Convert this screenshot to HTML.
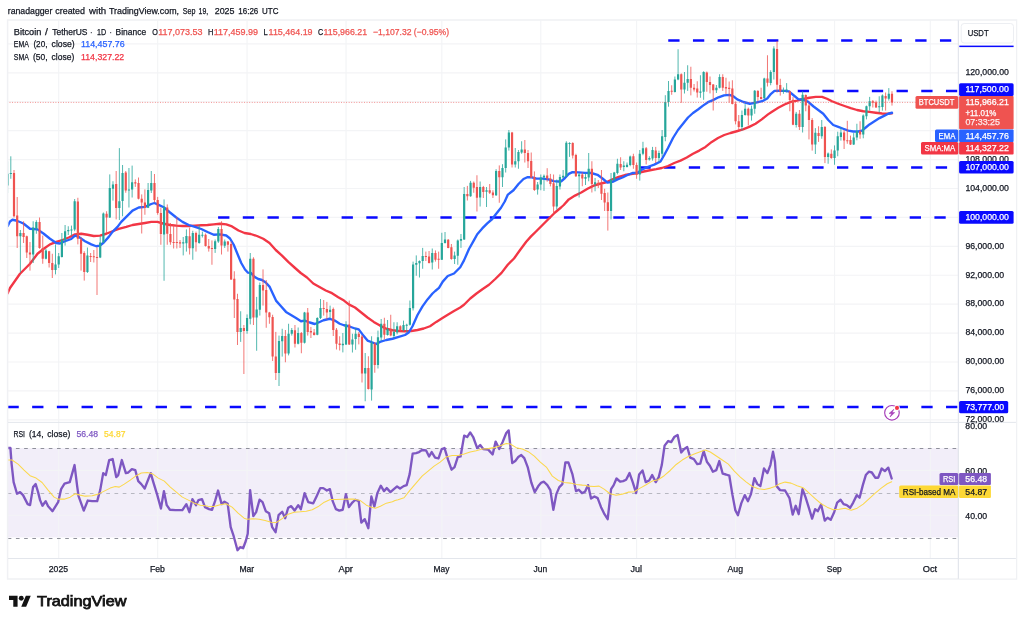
<!DOCTYPE html>
<html><head><meta charset="utf-8"><title>BTCUSDT chart</title>
<style>html,body{margin:0;padding:0;background:#fff}body{width:1024px;height:624px;overflow:hidden}svg{display:block}</style>
</head><body>
<svg width="1024" height="624" viewBox="0 0 1024 624" font-family='"Liberation Sans", sans-serif'>
<rect width="1024" height="624" fill="#fff"/>
<rect x="7.5" y="448.2" width="951.3" height="89.19999999999999" fill="#f2eef9"/>
<path d="M58.70 20.5 V558.5 M157.67 20.5 V558.5 M247.07 20.5 V558.5 M346.04 20.5 V558.5 M441.82 20.5 V558.5 M540.80 20.5 V558.5 M636.58 20.5 V558.5 M735.55 20.5 V558.5 M834.53 20.5 V558.5 M930.31 20.5 V558.5 M7.0 419.84 H958.8 M7.0 390.92 H958.8 M7.0 362.00 H958.8 M7.0 333.08 H958.8 M7.0 304.16 H958.8 M7.0 275.24 H958.8 M7.0 246.32 H958.8 M7.0 217.40 H958.8 M7.0 188.48 H958.8 M7.0 159.56 H958.8 M7.0 130.64 H958.8 M7.0 101.72 H958.8 M7.0 72.80 H958.8 M7.0 43.88 H958.8 M7.0 470.4 H958.8 M7.0 515.2 H958.8" stroke="#f3f4f6" stroke-width="1.15" fill="none"/>
<path d="M7.7 448.5 H958.8 M7.7 538.5 H958.8" stroke="#7c7f8a" stroke-opacity="0.85" stroke-width="1" stroke-dasharray="3.65 4.566" fill="none"/>
<path d="M7.7 493.5 H958.8" stroke="#7c7f8a" stroke-opacity="0.5" stroke-width="1" stroke-dasharray="3.65 4.566" fill="none"/>
<clipPath id="cp"><rect x="7.2" y="20.5" width="951.3" height="538.0"/></clipPath>
<g clip-path="url(#cp)">
<path d="M668.25 40.5 H958.8" stroke="#0a0aff" stroke-width="2.45" stroke-dasharray="11.3 13.4" fill="none"/>
<path d="M797.75 91.0 H958.8" stroke="#0a0aff" stroke-width="2.45" stroke-dasharray="11.3 13.4" fill="none"/>
<path d="M639.4 167.4 H958.8" stroke="#0a0aff" stroke-width="2.45" stroke-dasharray="11.3 13.4" fill="none"/>
<path d="M218.1 217.5 H958.8" stroke="#0a0aff" stroke-width="2.45" stroke-dasharray="11.3 13.4" fill="none"/>
<path d="M7.45 407.0 H958.8" stroke="#0a0aff" stroke-width="2.45" stroke-dasharray="11.3 13.4" fill="none"/>
<path d="M7.50 293.50 L10.00 288.00 L20.00 273.75 L30.00 263.75 L37.50 253.75 L43.75 248.75 L50.00 244.40 L56.25 241.90 L62.50 240.00 L68.75 237.50 L75.00 234.40 L81.25 233.75 L87.50 234.75 L93.75 236.00 L100.00 235.60 L106.25 233.75 L112.50 231.25 L118.75 228.90 L126.25 226.90 L132.50 225.00 L138.75 224.00 L145.00 223.00 L151.25 221.90 L157.50 221.90 L163.75 223.75 L170.00 225.00 L176.25 225.60 L182.50 226.00 L188.75 226.00 L195.00 225.60 L201.25 225.25 L207.50 225.00 L213.75 224.40 L220.00 223.75 L226.25 224.40 L232.00 226.40 L238.50 230.50 L244.50 233.00 L250.75 234.00 L257.00 236.00 L263.25 238.75 L269.50 243.00 L275.75 250.00 L282.00 255.60 L288.25 261.90 L294.50 267.50 L300.75 273.00 L307.00 277.50 L313.25 283.50 L319.50 287.00 L325.75 290.50 L332.00 293.20 L338.25 297.20 L344.00 300.60 L348.75 304.40 L355.00 307.50 L361.25 312.50 L367.50 317.50 L373.75 321.90 L380.00 325.60 L386.25 328.75 L392.50 330.25 L398.75 331.00 L405.00 331.25 L411.25 331.00 L417.50 330.00 L423.75 328.50 L430.00 326.25 L436.25 321.90 L442.50 318.00 L448.60 314.20 L454.00 311.00 L460.25 307.50 L464.00 304.75 L470.25 298.50 L476.50 293.50 L482.75 289.00 L489.00 284.75 L495.25 279.00 L501.50 272.90 L507.75 264.75 L514.00 258.50 L520.25 249.75 L526.20 241.80 L531.00 236.40 L536.00 231.50 L542.25 225.25 L548.50 219.00 L554.75 212.75 L561.00 207.50 L563.75 205.00 L568.75 199.40 L575.00 195.60 L581.25 192.50 L587.50 188.75 L593.75 185.60 L600.00 183.75 L606.25 182.25 L612.50 179.40 L618.75 176.90 L625.00 175.00 L631.25 174.00 L637.50 173.00 L643.75 171.50 L650.00 170.25 L656.25 169.20 L661.75 168.00 L668.00 166.00 L674.25 163.00 L680.50 160.60 L686.75 157.50 L693.00 153.75 L699.25 150.60 L705.50 146.90 L711.75 141.90 L718.00 138.00 L724.25 135.00 L730.50 133.00 L736.75 131.25 L743.00 129.40 L749.25 126.90 L755.50 123.75 L761.75 119.40 L768.00 114.40 L772.00 111.70 L778.25 107.80 L784.50 104.50 L790.75 101.90 L797.00 100.60 L803.25 99.00 L809.50 97.75 L815.75 96.90 L822.00 96.90 L827.00 98.75 L832.00 101.25 L838.25 103.75 L844.50 106.00 L850.75 108.10 L857.00 110.00 L863.25 111.25 L869.50 111.90 L875.75 112.75 L882.00 113.50 L887.00 113.75 L892.00 113.40" stroke="#f23645" stroke-width="2.35" fill="none" stroke-linejoin="round" stroke-linecap="round" />
<path d="M7.75 226.00 L10.00 221.50 L12.50 219.75 L16.00 220.50 L20.00 222.00 L23.75 223.75 L30.00 228.75 L37.50 229.40 L43.75 233.75 L50.00 238.75 L56.25 243.00 L60.00 243.50 L65.00 241.25 L71.25 239.00 L75.00 235.60 L78.75 236.90 L85.00 241.25 L91.25 244.40 L96.25 246.25 L100.00 245.60 L103.75 242.50 L108.75 236.90 L112.50 231.90 L117.50 226.90 L121.25 221.90 L126.25 216.90 L132.50 210.60 L138.75 207.50 L145.00 206.90 L151.25 204.00 L154.40 203.00 L157.50 204.40 L163.75 207.25 L170.00 212.50 L176.25 217.50 L182.50 221.90 L188.75 225.00 L195.00 226.90 L201.25 229.00 L207.50 232.00 L213.75 234.75 L220.00 234.40 L226.25 235.50 L230.00 238.50 L233.75 244.75 L237.50 254.00 L241.25 263.00 L245.00 269.50 L248.00 272.70 L251.00 273.00 L254.50 276.90 L258.25 279.00 L262.00 280.00 L265.75 282.50 L269.50 286.60 L272.25 292.50 L276.00 300.60 L281.00 306.25 L286.00 311.90 L291.00 315.00 L296.00 318.00 L301.00 321.25 L304.75 320.60 L309.75 322.50 L314.75 324.00 L318.50 322.50 L323.50 320.25 L329.75 318.75 L334.75 320.60 L339.75 323.75 L344.00 325.25 L348.75 326.25 L355.00 328.50 L358.75 329.40 L362.50 334.40 L367.50 340.60 L372.50 342.50 L376.25 344.00 L380.00 341.90 L386.25 340.00 L392.50 338.75 L398.75 336.90 L405.00 335.00 L408.75 332.50 L412.50 326.25 L417.50 315.00 L422.50 306.40 L427.50 299.40 L432.50 293.50 L435.25 291.00 L439.00 287.90 L442.75 281.60 L447.75 276.00 L454.00 273.50 L460.25 267.25 L464.00 260.40 L469.00 249.00 L474.00 240.20 L477.25 234.20 L482.25 228.40 L487.25 223.40 L492.25 219.00 L496.00 214.00 L501.00 207.75 L504.75 201.50 L507.90 194.60 L513.50 190.25 L518.50 184.00 L523.50 179.00 L527.25 177.20 L531.00 177.20 L536.00 178.50 L542.25 178.70 L548.50 179.40 L553.50 181.20 L558.50 181.50 L561.25 181.25 L565.00 178.00 L568.75 173.90 L572.50 172.10 L578.75 172.40 L585.00 172.90 L591.25 173.00 L597.50 174.80 L602.50 178.50 L607.50 182.60 L612.50 181.90 L617.50 179.40 L622.50 177.50 L627.50 175.00 L632.50 173.00 L637.50 172.90 L641.25 170.00 L647.50 167.00 L654.25 164.60 L660.50 161.50 L664.25 155.00 L668.00 148.00 L673.00 138.00 L678.00 130.00 L683.00 123.75 L688.00 117.50 L693.00 113.00 L698.00 109.50 L703.00 105.60 L708.00 102.20 L713.00 100.10 L718.50 97.30 L724.00 95.40 L729.50 94.90 L733.50 96.30 L737.25 99.40 L743.50 102.00 L749.75 103.75 L756.00 102.70 L762.25 101.20 L767.25 98.50 L771.00 93.80 L774.50 90.80 L779.50 90.70 L784.50 90.80 L788.90 91.40 L793.25 95.00 L798.25 99.20 L803.25 99.60 L808.25 101.90 L813.25 106.25 L818.25 110.00 L823.25 113.75 L828.25 120.00 L833.25 125.00 L838.25 126.90 L843.25 128.75 L848.25 130.60 L853.25 131.50 L858.25 131.50 L862.00 130.60 L865.75 127.50 L869.50 124.40 L874.50 121.25 L879.50 118.10 L884.50 115.60 L888.25 113.75 L892.00 112.75" stroke="#2962ff" stroke-width="2.35" fill="none" stroke-linejoin="round" stroke-linecap="round" />
<path d="M7.62 161.30V193.00M10.81 156.30V178.75M20.39 230.00V272.50M33.16 221.25V263.00M36.35 220.25V233.75M45.93 248.75V259.40M55.51 244.40V274.40M58.70 253.00V268.00M61.89 233.00V257.50M65.09 225.00V245.60M68.28 226.25V235.00M71.47 225.60V235.60M74.66 199.00V231.25M87.43 247.50V273.00M100.21 236.25V258.10M103.40 212.50V243.00M109.78 174.40V218.00M112.98 181.25V200.60M119.36 148.10V220.00M122.55 165.00V216.25M128.94 168.00V207.50M132.13 165.60V197.50M148.10 183.00V208.10M151.29 171.00V193.00M164.06 199.40V280.75M183.22 237.00V255.40M186.41 229.40V251.60M192.79 230.75V259.75M199.18 225.00V243.75M202.37 231.60V237.50M215.14 239.50V252.90M218.33 227.00V242.90M224.72 239.50V247.90M240.68 311.25V341.90M247.07 314.40V333.75M250.26 253.00V324.40M256.65 296.90V350.75M259.84 282.50V315.60M279.00 335.60V386.00M282.19 328.75V356.60M288.57 323.75V355.40M291.77 328.00V335.60M298.15 327.50V344.40M304.54 311.90V343.50M317.31 317.25V335.25M320.50 299.00V319.00M330.08 305.60V318.00M342.85 333.00V352.40M346.04 321.25V345.00M352.43 333.75V352.50M355.62 328.00V349.75M365.20 353.00V401.25M371.58 336.25V400.60M377.97 330.60V368.50M381.16 319.00V341.00M387.55 320.00V335.60M393.93 322.25V338.00M397.13 322.25V334.40M403.51 320.60V331.25M406.70 323.75V332.50M409.90 300.50V325.60M413.09 261.60V310.50M416.28 255.40V275.75M419.48 260.40V277.50M422.67 247.90V268.75M432.25 248.50V269.50M441.82 232.75V260.00M445.02 232.00V243.50M454.59 251.60V264.00M457.79 239.50V264.75M460.98 234.00V247.90M464.17 187.00V240.00M470.56 180.90V196.75M480.14 181.50V206.50M486.52 187.00V207.00M496.10 169.20V196.00M502.49 164.20V187.00M505.68 139.40V172.50M508.87 130.00V150.60M515.26 148.00V167.50M518.45 150.00V168.75M521.64 141.25V153.75M537.61 182.00V194.60M540.80 174.50V190.25M543.99 174.50V190.90M556.76 179.50V209.60M559.95 174.50V189.50M563.15 170.00V178.20M566.34 141.25V177.00M569.53 142.25V156.90M579.11 173.00V197.50M585.50 173.00V185.00M588.69 153.00V181.25M595.07 178.00V191.25M611.04 173.00V219.40M614.23 171.90V181.25M617.42 158.75V174.40M623.81 161.25V171.25M627.00 162.50V167.50M630.19 155.60V166.25M639.77 150.00V180.60M642.96 141.80V155.25M649.35 156.25V160.60M652.54 146.90V160.60M658.93 150.60V161.90M662.12 130.00V156.90M665.31 95.20V141.25M668.51 81.00V106.70M674.89 76.50V92.50M678.08 49.25V80.20M684.47 72.00V93.50M687.66 65.25V90.90M700.43 75.25V97.75M703.63 71.25V99.80M716.40 85.00V93.00M719.59 74.25V88.40M741.94 110.50V130.60M745.13 104.20V115.60M751.52 105.60V120.60M754.71 90.00V113.75M764.29 77.75V99.00M770.67 70.25V85.25M773.86 46.25V79.50M783.44 87.50V93.75M786.64 83.10V92.50M796.21 111.90V127.50M802.60 91.25V132.50M815.37 128.10V154.00M821.76 120.00V138.75M828.14 152.50V163.75M834.53 145.40V164.75M837.72 131.70V156.25M840.91 127.50V140.60M853.68 133.10V145.00M856.88 123.75V140.30M863.26 114.40V138.30M866.45 105.60V119.40M869.65 96.90V110.60M879.22 96.25V112.50M882.42 94.40V110.60M888.80 88.10V100.60" stroke="#26a69a" stroke-width="0.8" fill="none"/>
<path d="M14.00 170.00V217.50M17.19 197.00V248.00M23.58 221.25V243.00M26.77 235.60V258.00M29.97 242.00V270.60M39.54 217.50V248.75M42.74 235.60V263.75M49.12 250.75V267.50M52.31 253.75V278.00M77.86 197.75V244.40M81.05 236.90V270.60M84.24 251.25V280.60M90.63 253.00V262.00M93.82 250.00V262.50M97.01 247.50V295.00M106.59 211.25V233.00M116.17 171.00V219.40M125.75 171.00V192.75M135.32 179.40V186.90M138.52 177.50V199.40M141.71 194.40V233.50M144.90 189.40V214.75M154.48 174.00V202.50M157.67 196.90V214.75M160.87 207.50V244.75M167.25 204.40V244.75M170.44 223.00V244.75M173.64 224.40V248.50M176.83 216.90V248.50M180.02 240.00V248.00M189.60 227.50V254.50M195.99 231.60V251.60M205.56 233.50V246.60M208.76 239.00V251.60M211.95 240.40V264.75M221.53 221.25V254.50M227.91 241.00V251.60M231.11 241.60V280.00M234.30 271.25V318.00M237.49 293.75V345.00M243.88 325.00V374.00M253.45 257.25V325.00M263.03 269.40V305.60M266.23 280.00V327.75M269.42 311.90V323.75M272.61 314.75V361.00M275.80 331.90V380.00M285.38 330.00V362.25M294.96 325.00V347.50M301.35 332.00V353.25M307.73 308.00V335.60M310.92 326.90V338.00M314.12 329.00V335.50M323.69 300.00V315.60M326.89 301.90V319.40M333.27 307.50V336.00M336.46 328.00V349.50M339.66 336.25V350.50M349.24 300.60V345.00M358.81 331.90V344.40M362.01 335.00V382.50M368.39 356.25V389.50M374.78 342.00V372.75M384.36 317.75V339.40M390.74 314.75V336.25M400.32 325.25V330.60M425.86 251.60V261.00M429.05 251.00V263.50M435.44 250.40V261.60M438.63 251.60V268.75M448.21 239.00V248.25M451.40 244.00V259.75M467.37 185.90V200.50M473.75 181.50V192.75M476.94 175.25V211.50M483.33 185.90V198.00M489.71 184.00V194.00M492.91 190.25V198.00M499.29 165.40V202.75M512.06 131.90V167.50M524.83 140.00V162.50M528.03 150.00V168.00M531.22 152.50V178.00M534.41 171.40V190.90M547.18 168.20V181.70M550.38 173.90V186.40M553.57 174.50V214.00M572.72 142.25V158.50M575.92 153.75V177.00M582.30 172.50V186.25M591.88 161.25V192.50M598.27 180.00V188.00M601.46 170.00V200.00M604.65 188.75V211.00M607.84 192.50V230.60M620.62 157.25V170.00M633.39 153.75V168.75M636.58 162.50V178.75M646.16 147.00V164.40M655.73 146.90V163.00M671.70 85.25V94.80M681.28 73.40V102.80M690.85 66.75V95.40M694.05 84.00V91.50M697.24 81.25V97.60M706.82 71.50V91.75M710.01 76.50V93.40M713.20 84.00V110.50M722.78 74.25V90.90M725.97 77.75V94.00M729.17 81.50V102.60M732.36 80.25V104.40M735.55 101.40V124.40M738.75 115.00V130.00M748.32 107.60V125.60M757.90 90.00V101.40M761.09 87.75V99.50M767.48 55.25V86.50M777.06 40.90V92.60M780.25 78.75V95.60M789.83 90.60V111.25M793.02 96.90V125.20M799.41 110.00V130.00M805.79 94.40V111.25M808.98 103.75V139.40M812.18 118.10V150.60M818.56 126.25V141.90M824.95 126.00V163.10M831.33 149.40V158.75M844.10 130.00V149.00M847.30 120.80V143.75M850.49 135.60V145.00M860.07 121.25V138.75M872.84 100.00V107.50M876.03 100.60V107.75M885.61 92.50V110.60M891.99 91.25V105.60" stroke="#ef5350" stroke-width="0.8" fill="none"/>
<path d="M6.52 173.75h2.2V185.60h-2.2zM9.71 173.00h2.2V174.00h-2.2zM19.29 233.00h2.2V236.25h-2.2zM32.06 227.50h2.2V254.40h-2.2zM35.25 222.00h2.2V228.75h-2.2zM44.83 250.60h2.2V258.75h-2.2zM54.41 264.40h2.2V270.00h-2.2zM57.60 256.25h2.2V264.40h-2.2zM60.79 239.40h2.2V257.00h-2.2zM63.99 231.25h2.2V240.00h-2.2zM67.18 230.00h2.2V231.25h-2.2zM70.37 229.40h2.2V230.60h-2.2zM73.56 201.25h2.2V229.40h-2.2zM86.33 255.60h2.2V271.90h-2.2zM99.11 242.50h2.2V257.50h-2.2zM102.30 213.50h2.2V242.50h-2.2zM108.68 188.10h2.2V217.50h-2.2zM111.88 184.40h2.2V188.75h-2.2zM118.26 201.25h2.2V208.10h-2.2zM121.45 173.00h2.2V201.00h-2.2zM127.84 189.40h2.2V190.60h-2.2zM131.03 182.25h2.2V189.40h-2.2zM147.00 190.00h2.2V207.75h-2.2zM150.19 183.00h2.2V190.60h-2.2zM162.96 207.00h2.2V234.40h-2.2zM182.12 242.25h2.2V243.50h-2.2zM185.31 236.00h2.2V243.25h-2.2zM191.69 232.90h2.2V248.25h-2.2zM198.08 234.75h2.2V242.90h-2.2zM201.27 234.75h2.2V235.75h-2.2zM214.04 241.25h2.2V248.90h-2.2zM217.23 229.00h2.2V241.60h-2.2zM223.62 241.60h2.2V245.75h-2.2zM239.58 328.00h2.2V331.90h-2.2zM245.97 318.00h2.2V331.00h-2.2zM249.16 258.75h2.2V318.75h-2.2zM255.55 309.40h2.2V317.50h-2.2zM258.74 285.00h2.2V309.75h-2.2zM277.90 341.00h2.2V372.90h-2.2zM281.09 336.00h2.2V341.25h-2.2zM287.47 333.75h2.2V353.50h-2.2zM290.67 330.00h2.2V333.75h-2.2zM297.05 333.00h2.2V343.75h-2.2zM303.44 312.50h2.2V342.75h-2.2zM316.21 318.00h2.2V334.75h-2.2zM319.40 308.00h2.2V318.00h-2.2zM328.98 309.75h2.2V311.90h-2.2zM341.75 343.75h2.2V345.25h-2.2zM344.94 324.40h2.2V344.40h-2.2zM351.33 339.40h2.2V344.40h-2.2zM354.52 333.75h2.2V339.00h-2.2zM364.10 368.00h2.2V373.50h-2.2zM370.48 342.50h2.2V389.40h-2.2zM376.87 337.25h2.2V365.00h-2.2zM380.06 323.75h2.2V337.50h-2.2zM386.45 329.00h2.2V335.00h-2.2zM392.83 331.90h2.2V336.00h-2.2zM396.03 326.25h2.2V332.50h-2.2zM402.41 325.00h2.2V330.25h-2.2zM405.60 324.68h2.2V325.68h-2.2zM408.80 308.00h2.2V324.75h-2.2zM411.99 264.50h2.2V308.25h-2.2zM415.18 262.90h2.2V264.75h-2.2zM418.38 261.00h2.2V263.25h-2.2zM421.57 256.00h2.2V261.00h-2.2zM431.15 252.90h2.2V262.50h-2.2zM440.72 242.90h2.2V259.75h-2.2zM443.92 239.60h2.2V242.90h-2.2zM453.49 255.40h2.2V259.00h-2.2zM456.69 240.40h2.2V255.75h-2.2zM459.88 239.00h2.2V240.75h-2.2zM463.07 194.00h2.2V239.50h-2.2zM469.46 182.75h2.2V196.25h-2.2zM479.04 187.00h2.2V197.50h-2.2zM485.42 190.25h2.2V191.75h-2.2zM495.00 171.00h2.2V195.25h-2.2zM501.39 168.00h2.2V177.30h-2.2zM504.58 147.50h2.2V168.00h-2.2zM507.77 132.50h2.2V147.50h-2.2zM514.16 161.25h2.2V164.40h-2.2zM517.35 151.90h2.2V161.25h-2.2zM520.54 149.40h2.2V152.50h-2.2zM536.50 184.60h2.2V189.60h-2.2zM539.70 177.60h2.2V184.50h-2.2zM542.89 175.75h2.2V177.60h-2.2zM555.66 186.00h2.2V206.50h-2.2zM558.85 177.00h2.2V186.50h-2.2zM562.05 175.80h2.2V177.50h-2.2zM565.24 142.75h2.2V176.25h-2.2zM568.43 142.88h2.2V143.88h-2.2zM578.01 174.40h2.2V176.25h-2.2zM584.40 177.00h2.2V178.75h-2.2zM587.59 168.75h2.2V177.50h-2.2zM593.97 182.20h2.2V184.20h-2.2zM609.94 179.40h2.2V211.00h-2.2zM613.13 172.50h2.2V180.00h-2.2zM616.32 163.75h2.2V173.00h-2.2zM622.71 165.60h2.2V166.90h-2.2zM625.90 164.75h2.2V166.90h-2.2zM629.09 156.50h2.2V165.00h-2.2zM638.67 153.75h2.2V174.40h-2.2zM641.86 148.30h2.2V153.75h-2.2zM648.25 158.00h2.2V159.60h-2.2zM651.44 150.00h2.2V158.50h-2.2zM657.83 153.00h2.2V158.00h-2.2zM661.02 136.25h2.2V153.75h-2.2zM664.21 102.00h2.2V136.90h-2.2zM667.41 90.90h2.2V102.00h-2.2zM673.79 79.60h2.2V92.00h-2.2zM676.98 74.25h2.2V79.60h-2.2zM683.37 82.75h2.2V89.60h-2.2zM686.56 79.00h2.2V82.75h-2.2zM699.33 91.50h2.2V92.75h-2.2zM702.53 72.00h2.2V91.75h-2.2zM715.30 87.75h2.2V90.25h-2.2zM718.49 77.00h2.2V87.75h-2.2zM740.84 115.00h2.2V126.90h-2.2zM744.03 108.75h2.2V115.00h-2.2zM750.42 108.75h2.2V115.60h-2.2zM753.61 90.80h2.2V108.75h-2.2zM763.19 78.40h2.2V98.20h-2.2zM769.57 72.00h2.2V83.00h-2.2zM772.76 48.40h2.2V72.00h-2.2zM782.34 90.00h2.2V91.50h-2.2zM785.54 89.40h2.2V90.60h-2.2zM795.11 113.75h2.2V125.00h-2.2zM801.50 94.75h2.2V126.90h-2.2zM814.27 132.80h2.2V144.40h-2.2zM820.66 126.90h2.2V136.25h-2.2zM827.04 153.50h2.2V156.90h-2.2zM833.43 150.60h2.2V158.10h-2.2zM836.62 136.25h2.2V150.60h-2.2zM839.81 132.50h2.2V136.90h-2.2zM852.58 137.50h2.2V144.40h-2.2zM855.77 131.25h2.2V137.50h-2.2zM862.16 115.60h2.2V134.40h-2.2zM865.35 106.25h2.2V116.25h-2.2zM868.55 101.25h2.2V106.25h-2.2zM878.12 106.25h2.2V107.25h-2.2zM881.32 95.60h2.2V106.90h-2.2zM887.70 93.75h2.2V98.75h-2.2z" fill="#26a69a"/>
<path d="M12.90 173.00h2.2V216.25h-2.2zM16.09 215.60h2.2V236.25h-2.2zM22.48 233.00h2.2V237.00h-2.2zM25.67 236.25h2.2V252.50h-2.2zM28.87 252.50h2.2V254.40h-2.2zM38.44 222.00h2.2V248.00h-2.2zM41.64 248.00h2.2V258.75h-2.2zM48.02 251.25h2.2V263.00h-2.2zM51.21 263.00h2.2V270.00h-2.2zM76.76 201.50h2.2V238.75h-2.2zM79.95 239.40h2.2V253.75h-2.2zM83.14 253.00h2.2V271.90h-2.2zM89.53 256.00h2.2V257.00h-2.2zM92.72 256.25h2.2V257.25h-2.2zM95.91 256.88h2.2V257.88h-2.2zM105.49 213.75h2.2V217.50h-2.2zM115.07 184.00h2.2V208.10h-2.2zM124.65 172.50h2.2V190.60h-2.2zM134.22 182.25h2.2V183.50h-2.2zM137.42 183.00h2.2V198.75h-2.2zM140.61 198.75h2.2V202.50h-2.2zM143.80 202.50h2.2V208.00h-2.2zM153.38 183.00h2.2V200.00h-2.2zM156.57 200.00h2.2V213.00h-2.2zM159.77 213.00h2.2V234.00h-2.2zM166.15 207.50h2.2V233.75h-2.2zM169.34 234.00h2.2V242.25h-2.2zM172.54 242.00h2.2V243.00h-2.2zM175.73 242.00h2.2V243.00h-2.2zM178.92 242.25h2.2V243.50h-2.2zM188.50 236.25h2.2V248.25h-2.2zM194.89 232.90h2.2V242.25h-2.2zM204.46 234.75h2.2V246.00h-2.2zM207.66 246.00h2.2V248.50h-2.2zM210.85 248.12h2.2V249.12h-2.2zM220.43 229.00h2.2V245.40h-2.2zM226.81 241.60h2.2V244.75h-2.2zM230.01 244.00h2.2V279.50h-2.2zM233.20 278.75h2.2V299.40h-2.2zM236.39 299.00h2.2V331.90h-2.2zM242.78 328.00h2.2V331.00h-2.2zM252.35 258.75h2.2V317.50h-2.2zM261.93 285.00h2.2V290.60h-2.2zM265.13 290.00h2.2V312.50h-2.2zM268.32 312.50h2.2V317.25h-2.2zM271.51 317.00h2.2V356.60h-2.2zM274.70 356.60h2.2V372.90h-2.2zM284.28 336.00h2.2V353.50h-2.2zM293.86 330.25h2.2V343.75h-2.2zM300.25 332.90h2.2V342.75h-2.2zM306.63 312.50h2.2V331.90h-2.2zM309.82 331.00h2.2V332.50h-2.2zM313.02 332.50h2.2V335.00h-2.2zM322.59 308.00h2.2V309.00h-2.2zM325.79 309.00h2.2V312.50h-2.2zM332.17 309.00h2.2V330.00h-2.2zM335.36 329.75h2.2V343.75h-2.2zM338.56 343.50h2.2V345.00h-2.2zM348.14 324.40h2.2V344.40h-2.2zM357.71 333.75h2.2V336.90h-2.2zM360.91 336.50h2.2V373.50h-2.2zM367.29 368.00h2.2V389.00h-2.2zM373.68 343.75h2.2V365.00h-2.2zM383.26 323.75h2.2V334.75h-2.2zM389.64 329.40h2.2V335.60h-2.2zM399.22 326.25h2.2V330.25h-2.2zM424.76 255.90h2.2V256.90h-2.2zM427.95 256.60h2.2V262.90h-2.2zM434.34 252.90h2.2V259.75h-2.2zM437.53 258.82h2.2V259.82h-2.2zM447.11 239.75h2.2V247.90h-2.2zM450.30 247.25h2.2V259.00h-2.2zM466.27 194.00h2.2V196.25h-2.2zM472.65 182.75h2.2V187.75h-2.2zM475.84 187.00h2.2V197.75h-2.2zM482.23 187.00h2.2V192.00h-2.2zM488.61 190.25h2.2V192.75h-2.2zM491.81 192.50h2.2V195.25h-2.2zM498.19 171.00h2.2V177.30h-2.2zM510.96 132.50h2.2V164.40h-2.2zM523.73 149.40h2.2V153.00h-2.2zM526.93 153.00h2.2V161.25h-2.2zM530.12 161.00h2.2V177.50h-2.2zM533.31 177.00h2.2V190.00h-2.2zM546.08 175.60h2.2V178.40h-2.2zM549.28 178.40h2.2V183.90h-2.2zM552.47 183.20h2.2V206.50h-2.2zM571.62 143.00h2.2V155.60h-2.2zM574.82 155.00h2.2V176.25h-2.2zM581.20 174.40h2.2V178.60h-2.2zM590.78 168.75h2.2V184.00h-2.2zM597.17 182.75h2.2V185.00h-2.2zM600.36 184.40h2.2V193.75h-2.2zM603.55 193.00h2.2V202.50h-2.2zM606.74 202.25h2.2V211.00h-2.2zM619.52 164.00h2.2V167.50h-2.2zM632.29 156.25h2.2V165.00h-2.2zM635.48 165.00h2.2V175.00h-2.2zM645.06 148.30h2.2V160.00h-2.2zM654.63 150.60h2.2V158.00h-2.2zM670.60 90.83h2.2V91.83h-2.2zM680.18 74.25h2.2V89.60h-2.2zM689.75 79.00h2.2V87.75h-2.2zM692.95 87.75h2.2V89.60h-2.2zM696.14 88.40h2.2V92.60h-2.2zM705.72 72.50h2.2V82.00h-2.2zM708.91 81.90h2.2V85.00h-2.2zM712.10 84.60h2.2V90.25h-2.2zM721.68 77.00h2.2V87.75h-2.2zM724.87 87.00h2.2V88.40h-2.2zM728.07 87.75h2.2V89.00h-2.2zM731.26 88.40h2.2V103.90h-2.2zM734.45 103.75h2.2V121.25h-2.2zM737.65 121.25h2.2V126.90h-2.2zM747.22 108.75h2.2V115.60h-2.2zM756.80 91.00h2.2V97.00h-2.2zM759.99 97.00h2.2V98.90h-2.2zM766.38 78.40h2.2V82.75h-2.2zM775.96 49.00h2.2V84.70h-2.2zM779.15 84.90h2.2V91.40h-2.2zM788.73 91.50h2.2V100.00h-2.2zM791.92 99.75h2.2V124.75h-2.2zM798.31 113.75h2.2V126.90h-2.2zM804.69 95.00h2.2V105.60h-2.2zM807.88 105.60h2.2V120.00h-2.2zM811.08 120.00h2.2V144.40h-2.2zM817.46 133.10h2.2V135.90h-2.2zM823.85 126.90h2.2V156.90h-2.2zM830.23 153.75h2.2V158.10h-2.2zM843.00 132.50h2.2V140.60h-2.2zM846.20 140.25h2.2V141.25h-2.2zM849.39 140.00h2.2V144.60h-2.2zM858.97 131.25h2.2V134.40h-2.2zM871.74 101.25h2.2V102.75h-2.2zM874.93 102.25h2.2V107.50h-2.2zM884.51 96.00h2.2V98.50h-2.2zM890.89 93.75h2.2V102.50h-2.2z" fill="#ef5350"/>
<path d="M7.0 102.4 H958.8" stroke="#ef5350" stroke-width="0.8" stroke-opacity="0.85" stroke-dasharray="0.9 1.65" fill="none"/>
<defs><linearGradient id="gOB" gradientUnits="userSpaceOnUse" x1="0" y1="428" x2="0" y2="448.5"><stop offset="0" stop-color="#4caf50" stop-opacity="0.13"/><stop offset="1" stop-color="#4caf50" stop-opacity="0.02"/></linearGradient><linearGradient id="gOS" gradientUnits="userSpaceOnUse" x1="0" y1="538.5" x2="0" y2="553"><stop offset="0" stop-color="#ff5252" stop-opacity="0.02"/><stop offset="1" stop-color="#ff5252" stop-opacity="0.2"/></linearGradient><clipPath id="cOB"><rect x="7" y="423" width="952" height="25.3"/></clipPath><clipPath id="cOS"><rect x="7" y="539" width="952" height="19"/></clipPath></defs>
<path d="M8.02 448.04 L10.42 448.04 L11.62 464.07 L13.63 482.11 L17.03 493.73 L20.04 492.13 L23.05 495.13 L27.66 504.15 L30.06 505.15 L33.07 487.12 L35.67 484.11 L38.08 492.13 L40.08 500.14 L42.48 505.76 L45.69 501.15 L48.10 506.16 L52.51 511.17 L58.12 502.15 L61.12 489.12 L64.53 483.71 L69.74 482.11 L74.55 465.07 L77.15 486.12 L78.56 496.14 L83.77 510.57 L87.78 500.55 L92.18 501.15 L97.19 501.15 L100.20 490.12 L103.21 473.09 L105.81 475.09 L109.22 460.06 L112.63 459.06 L116.23 477.10 L118.24 475.09 L121.84 460.06 L125.85 473.09 L128.26 472.49 L131.86 469.08 L135.27 470.08 L138.28 481.11 L141.28 484.11 L144.69 488.52 L150.70 473.09 L153.31 482.11 L157.31 495.13 L160.92 508.56 L163.93 491.13 L166.73 505.15 L169.94 509.76 L175.35 510.16 L182.36 510.16 L186.37 504.15 L189.38 512.17 L192.38 499.14 L195.99 505.15 L198.40 500.14 L202.00 499.14 L205.01 507.16 L209.04 509.16 L212.04 509.76 L215.05 501.15 L218.06 490.53 L221.66 504.15 L224.47 501.75 L227.68 503.75 L230.68 527.20 L233.69 536.22 L237.49 550.24 L240.10 547.24 L243.11 548.24 L245.71 541.23 L247.72 533.81 L250.12 490.12 L253.33 516.18 L256.13 512.17 L259.54 499.74 L262.55 502.15 L265.75 511.17 L269.16 513.17 L272.16 527.20 L275.57 532.21 L278.58 515.17 L282.18 511.77 L285.19 518.18 L288.20 507.76 L291.20 506.16 L294.61 510.57 L298.22 505.15 L300.82 509.16 L304.63 493.13 L308.24 502.15 L313.25 503.35 L316.65 496.14 L320.26 488.12 L323.27 488.12 L326.87 490.53 L329.88 489.12 L332.69 501.15 L335.89 509.16 L339.30 510.57 L342.71 509.76 L345.91 494.13 L348.92 507.16 L352.32 502.55 L355.33 499.74 L358.74 501.15 L361.34 522.59 L364.75 519.18 L368.36 528.20 L371.36 496.54 L374.37 506.56 L377.37 493.13 L380.78 485.72 L383.99 491.13 L386.79 488.12 L390.40 492.13 L395.01 488.12 L397.03 486.52 L400.04 488.52 L403.65 486.12 L406.65 485.11 L409.66 474.09 L412.67 453.65 L416.07 453.05 L419.08 452.05 L422.08 450.04 L426.09 450.44 L429.10 456.46 L431.70 452.05 L435.11 457.66 L438.52 458.46 L441.72 449.04 L444.53 448.04 L448.14 460.06 L451.54 469.68 L454.55 467.08 L457.76 457.06 L460.56 456.46 L464.17 435.62 L467.17 437.02 L470.18 432.41 L473.19 437.02 L477.19 448.04 L480.20 445.03 L483.21 449.04 L488.22 449.64 L492.63 454.45 L495.63 441.63 L499.24 449.04 L502.65 442.03 L506.25 433.01 L508.66 430.40 L512.26 463.07 L515.27 461.07 L518.28 457.06 L521.28 455.05 L524.29 458.06 L527.70 467.08 L531.30 482.51 L534.71 492.13 L538.32 486.12 L541.32 482.51 L543.93 481.71 L547.33 485.11 L550.34 490.12 L553.35 509.76 L556.35 494.13 L559.36 487.12 L562.36 484.11 L565.37 462.47 L568.38 462.47 L572.38 474.09 L575.99 491.13 L578.80 489.72 L582.00 493.13 L585.01 491.73 L588.04 485.11 L591.04 498.54 L594.45 496.54 L597.66 498.14 L601.06 507.16 L604.47 514.17 L607.68 519.18 L611.08 489.12 L613.69 485.11 L616.49 478.50 L620.10 481.71 L623.11 481.11 L626.11 479.70 L629.52 473.09 L632.73 482.11 L636.13 493.13 L639.14 474.49 L642.55 470.48 L645.75 482.11 L649.16 480.51 L652.16 475.09 L655.77 482.11 L658.78 477.10 L661.78 465.07 L664.59 445.64 L668.20 441.03 L671.20 442.03 L674.21 437.02 L677.62 435.01 L681.22 452.45 L684.23 449.04 L687.23 447.04 L690.24 457.66 L693.85 459.06 L697.25 464.07 L700.26 463.67 L703.67 451.05 L706.87 461.67 L709.88 465.68 L712.89 471.69 L716.29 470.08 L719.30 461.07 L722.71 473.69 L725.91 474.49 L729.32 475.70 L732.32 494.13 L735.33 510.16 L737.94 515.17 L741.34 503.15 L744.75 495.13 L747.96 501.15 L750.96 494.13 L754.37 478.10 L757.37 484.11 L760.38 486.12 L763.99 468.48 L767.39 473.09 L770.40 465.07 L773.01 451.65 L775.01 462.07 L776.64 486.12 L780.05 490.12 L785.06 490.53 L789.47 498.14 L792.68 514.57 L795.68 505.76 L798.69 514.17 L802.49 489.12 L805.50 497.14 L809.11 508.56 L812.11 518.58 L815.12 509.16 L817.73 511.17 L821.13 504.55 L824.74 520.59 L827.55 517.78 L830.75 519.78 L834.16 512.17 L837.16 502.55 L840.57 499.74 L843.58 504.15 L846.78 505.15 L850.19 507.76 L853.20 502.55 L856.80 495.13 L859.61 497.74 L862.82 485.11 L865.82 475.09 L868.83 471.69 L871.83 472.49 L875.24 477.70 L878.25 477.70 L881.65 468.48 L884.86 471.09 L888.27 467.68 L891.67 478.50 L891.67 448.5 L8.02 448.5 Z" fill="url(#gOB)" clip-path="url(#cOB)"/>
<path d="M8.02 448.04 L10.42 448.04 L11.62 464.07 L13.63 482.11 L17.03 493.73 L20.04 492.13 L23.05 495.13 L27.66 504.15 L30.06 505.15 L33.07 487.12 L35.67 484.11 L38.08 492.13 L40.08 500.14 L42.48 505.76 L45.69 501.15 L48.10 506.16 L52.51 511.17 L58.12 502.15 L61.12 489.12 L64.53 483.71 L69.74 482.11 L74.55 465.07 L77.15 486.12 L78.56 496.14 L83.77 510.57 L87.78 500.55 L92.18 501.15 L97.19 501.15 L100.20 490.12 L103.21 473.09 L105.81 475.09 L109.22 460.06 L112.63 459.06 L116.23 477.10 L118.24 475.09 L121.84 460.06 L125.85 473.09 L128.26 472.49 L131.86 469.08 L135.27 470.08 L138.28 481.11 L141.28 484.11 L144.69 488.52 L150.70 473.09 L153.31 482.11 L157.31 495.13 L160.92 508.56 L163.93 491.13 L166.73 505.15 L169.94 509.76 L175.35 510.16 L182.36 510.16 L186.37 504.15 L189.38 512.17 L192.38 499.14 L195.99 505.15 L198.40 500.14 L202.00 499.14 L205.01 507.16 L209.04 509.16 L212.04 509.76 L215.05 501.15 L218.06 490.53 L221.66 504.15 L224.47 501.75 L227.68 503.75 L230.68 527.20 L233.69 536.22 L237.49 550.24 L240.10 547.24 L243.11 548.24 L245.71 541.23 L247.72 533.81 L250.12 490.12 L253.33 516.18 L256.13 512.17 L259.54 499.74 L262.55 502.15 L265.75 511.17 L269.16 513.17 L272.16 527.20 L275.57 532.21 L278.58 515.17 L282.18 511.77 L285.19 518.18 L288.20 507.76 L291.20 506.16 L294.61 510.57 L298.22 505.15 L300.82 509.16 L304.63 493.13 L308.24 502.15 L313.25 503.35 L316.65 496.14 L320.26 488.12 L323.27 488.12 L326.87 490.53 L329.88 489.12 L332.69 501.15 L335.89 509.16 L339.30 510.57 L342.71 509.76 L345.91 494.13 L348.92 507.16 L352.32 502.55 L355.33 499.74 L358.74 501.15 L361.34 522.59 L364.75 519.18 L368.36 528.20 L371.36 496.54 L374.37 506.56 L377.37 493.13 L380.78 485.72 L383.99 491.13 L386.79 488.12 L390.40 492.13 L395.01 488.12 L397.03 486.52 L400.04 488.52 L403.65 486.12 L406.65 485.11 L409.66 474.09 L412.67 453.65 L416.07 453.05 L419.08 452.05 L422.08 450.04 L426.09 450.44 L429.10 456.46 L431.70 452.05 L435.11 457.66 L438.52 458.46 L441.72 449.04 L444.53 448.04 L448.14 460.06 L451.54 469.68 L454.55 467.08 L457.76 457.06 L460.56 456.46 L464.17 435.62 L467.17 437.02 L470.18 432.41 L473.19 437.02 L477.19 448.04 L480.20 445.03 L483.21 449.04 L488.22 449.64 L492.63 454.45 L495.63 441.63 L499.24 449.04 L502.65 442.03 L506.25 433.01 L508.66 430.40 L512.26 463.07 L515.27 461.07 L518.28 457.06 L521.28 455.05 L524.29 458.06 L527.70 467.08 L531.30 482.51 L534.71 492.13 L538.32 486.12 L541.32 482.51 L543.93 481.71 L547.33 485.11 L550.34 490.12 L553.35 509.76 L556.35 494.13 L559.36 487.12 L562.36 484.11 L565.37 462.47 L568.38 462.47 L572.38 474.09 L575.99 491.13 L578.80 489.72 L582.00 493.13 L585.01 491.73 L588.04 485.11 L591.04 498.54 L594.45 496.54 L597.66 498.14 L601.06 507.16 L604.47 514.17 L607.68 519.18 L611.08 489.12 L613.69 485.11 L616.49 478.50 L620.10 481.71 L623.11 481.11 L626.11 479.70 L629.52 473.09 L632.73 482.11 L636.13 493.13 L639.14 474.49 L642.55 470.48 L645.75 482.11 L649.16 480.51 L652.16 475.09 L655.77 482.11 L658.78 477.10 L661.78 465.07 L664.59 445.64 L668.20 441.03 L671.20 442.03 L674.21 437.02 L677.62 435.01 L681.22 452.45 L684.23 449.04 L687.23 447.04 L690.24 457.66 L693.85 459.06 L697.25 464.07 L700.26 463.67 L703.67 451.05 L706.87 461.67 L709.88 465.68 L712.89 471.69 L716.29 470.08 L719.30 461.07 L722.71 473.69 L725.91 474.49 L729.32 475.70 L732.32 494.13 L735.33 510.16 L737.94 515.17 L741.34 503.15 L744.75 495.13 L747.96 501.15 L750.96 494.13 L754.37 478.10 L757.37 484.11 L760.38 486.12 L763.99 468.48 L767.39 473.09 L770.40 465.07 L773.01 451.65 L775.01 462.07 L776.64 486.12 L780.05 490.12 L785.06 490.53 L789.47 498.14 L792.68 514.57 L795.68 505.76 L798.69 514.17 L802.49 489.12 L805.50 497.14 L809.11 508.56 L812.11 518.58 L815.12 509.16 L817.73 511.17 L821.13 504.55 L824.74 520.59 L827.55 517.78 L830.75 519.78 L834.16 512.17 L837.16 502.55 L840.57 499.74 L843.58 504.15 L846.78 505.15 L850.19 507.76 L853.20 502.55 L856.80 495.13 L859.61 497.74 L862.82 485.11 L865.82 475.09 L868.83 471.69 L871.83 472.49 L875.24 477.70 L878.25 477.70 L881.65 468.48 L884.86 471.09 L888.27 467.68 L891.67 478.50 L891.67 538.5 L8.02 538.5 Z" fill="url(#gOS)" clip-path="url(#cOS)"/>
<path d="M8.02 448.04 L10.42 448.04 L11.62 464.07 L13.63 482.11 L17.03 493.73 L20.04 492.13 L23.05 495.13 L27.66 504.15 L30.06 505.15 L33.07 487.12 L35.67 484.11 L38.08 492.13 L40.08 500.14 L42.48 505.76 L45.69 501.15 L48.10 506.16 L52.51 511.17 L58.12 502.15 L61.12 489.12 L64.53 483.71 L69.74 482.11 L74.55 465.07 L77.15 486.12 L78.56 496.14 L83.77 510.57 L87.78 500.55 L92.18 501.15 L97.19 501.15 L100.20 490.12 L103.21 473.09 L105.81 475.09 L109.22 460.06 L112.63 459.06 L116.23 477.10 L118.24 475.09 L121.84 460.06 L125.85 473.09 L128.26 472.49 L131.86 469.08 L135.27 470.08 L138.28 481.11 L141.28 484.11 L144.69 488.52 L150.70 473.09 L153.31 482.11 L157.31 495.13 L160.92 508.56 L163.93 491.13 L166.73 505.15 L169.94 509.76 L175.35 510.16 L182.36 510.16 L186.37 504.15 L189.38 512.17 L192.38 499.14 L195.99 505.15 L198.40 500.14 L202.00 499.14 L205.01 507.16 L209.04 509.16 L212.04 509.76 L215.05 501.15 L218.06 490.53 L221.66 504.15 L224.47 501.75 L227.68 503.75 L230.68 527.20 L233.69 536.22 L237.49 550.24 L240.10 547.24 L243.11 548.24 L245.71 541.23 L247.72 533.81 L250.12 490.12 L253.33 516.18 L256.13 512.17 L259.54 499.74 L262.55 502.15 L265.75 511.17 L269.16 513.17 L272.16 527.20 L275.57 532.21 L278.58 515.17 L282.18 511.77 L285.19 518.18 L288.20 507.76 L291.20 506.16 L294.61 510.57 L298.22 505.15 L300.82 509.16 L304.63 493.13 L308.24 502.15 L313.25 503.35 L316.65 496.14 L320.26 488.12 L323.27 488.12 L326.87 490.53 L329.88 489.12 L332.69 501.15 L335.89 509.16 L339.30 510.57 L342.71 509.76 L345.91 494.13 L348.92 507.16 L352.32 502.55 L355.33 499.74 L358.74 501.15 L361.34 522.59 L364.75 519.18 L368.36 528.20 L371.36 496.54 L374.37 506.56 L377.37 493.13 L380.78 485.72 L383.99 491.13 L386.79 488.12 L390.40 492.13 L395.01 488.12 L397.03 486.52 L400.04 488.52 L403.65 486.12 L406.65 485.11 L409.66 474.09 L412.67 453.65 L416.07 453.05 L419.08 452.05 L422.08 450.04 L426.09 450.44 L429.10 456.46 L431.70 452.05 L435.11 457.66 L438.52 458.46 L441.72 449.04 L444.53 448.04 L448.14 460.06 L451.54 469.68 L454.55 467.08 L457.76 457.06 L460.56 456.46 L464.17 435.62 L467.17 437.02 L470.18 432.41 L473.19 437.02 L477.19 448.04 L480.20 445.03 L483.21 449.04 L488.22 449.64 L492.63 454.45 L495.63 441.63 L499.24 449.04 L502.65 442.03 L506.25 433.01 L508.66 430.40 L512.26 463.07 L515.27 461.07 L518.28 457.06 L521.28 455.05 L524.29 458.06 L527.70 467.08 L531.30 482.51 L534.71 492.13 L538.32 486.12 L541.32 482.51 L543.93 481.71 L547.33 485.11 L550.34 490.12 L553.35 509.76 L556.35 494.13 L559.36 487.12 L562.36 484.11 L565.37 462.47 L568.38 462.47 L572.38 474.09 L575.99 491.13 L578.80 489.72 L582.00 493.13 L585.01 491.73 L588.04 485.11 L591.04 498.54 L594.45 496.54 L597.66 498.14 L601.06 507.16 L604.47 514.17 L607.68 519.18 L611.08 489.12 L613.69 485.11 L616.49 478.50 L620.10 481.71 L623.11 481.11 L626.11 479.70 L629.52 473.09 L632.73 482.11 L636.13 493.13 L639.14 474.49 L642.55 470.48 L645.75 482.11 L649.16 480.51 L652.16 475.09 L655.77 482.11 L658.78 477.10 L661.78 465.07 L664.59 445.64 L668.20 441.03 L671.20 442.03 L674.21 437.02 L677.62 435.01 L681.22 452.45 L684.23 449.04 L687.23 447.04 L690.24 457.66 L693.85 459.06 L697.25 464.07 L700.26 463.67 L703.67 451.05 L706.87 461.67 L709.88 465.68 L712.89 471.69 L716.29 470.08 L719.30 461.07 L722.71 473.69 L725.91 474.49 L729.32 475.70 L732.32 494.13 L735.33 510.16 L737.94 515.17 L741.34 503.15 L744.75 495.13 L747.96 501.15 L750.96 494.13 L754.37 478.10 L757.37 484.11 L760.38 486.12 L763.99 468.48 L767.39 473.09 L770.40 465.07 L773.01 451.65 L775.01 462.07 L776.64 486.12 L780.05 490.12 L785.06 490.53 L789.47 498.14 L792.68 514.57 L795.68 505.76 L798.69 514.17 L802.49 489.12 L805.50 497.14 L809.11 508.56 L812.11 518.58 L815.12 509.16 L817.73 511.17 L821.13 504.55 L824.74 520.59 L827.55 517.78 L830.75 519.78 L834.16 512.17 L837.16 502.55 L840.57 499.74 L843.58 504.15 L846.78 505.15 L850.19 507.76 L853.20 502.55 L856.80 495.13 L859.61 497.74 L862.82 485.11 L865.82 475.09 L868.83 471.69 L871.83 472.49 L875.24 477.70 L878.25 477.70 L881.65 468.48 L884.86 471.09 L888.27 467.68 L891.67 478.50" stroke="#7e57c2" stroke-width="2.35" fill="none" stroke-linejoin="round" stroke-linecap="round" />
<path d="M8.02 460.06 L12.02 460.06 L18.04 464.07 L24.05 470.08 L30.06 475.70 L36.07 478.10 L42.08 482.51 L48.10 490.12 L54.11 497.14 L58.12 499.14 L64.13 499.14 L70.14 497.14 L75.15 493.73 L80.16 495.13 L85.17 496.14 L92.18 495.74 L98.20 494.13 L104.21 491.13 L110.22 488.12 L115.23 486.52 L119.24 487.12 L124.25 484.11 L130.26 480.10 L136.27 475.70 L141.28 473.09 L147.29 472.49 L152.30 473.69 L158.32 478.10 L164.33 481.11 L170.34 487.12 L176.35 492.13 L182.36 497.14 L188.38 500.14 L194.39 503.15 L200.40 505.15 L205.01 505.76 L208.04 506.16 L214.05 506.56 L220.06 504.75 L226.07 503.75 L232.08 507.16 L238.10 513.17 L244.11 518.18 L247.11 519.18 L253.13 518.78 L259.14 519.18 L265.15 520.59 L271.16 522.19 L276.17 522.59 L282.18 518.58 L288.20 514.17 L294.21 512.17 L300.22 511.77 L306.23 511.17 L312.24 509.76 L318.26 506.56 L324.27 502.15 L330.28 499.54 L336.29 499.54 L342.30 499.34 L348.32 499.14 L354.33 499.14 L360.34 500.55 L366.35 505.15 L371.36 507.16 L375.37 508.16 L380.38 506.16 L386.39 503.15 L392.40 501.75 L395.01 500.55 L398.04 499.74 L404.05 497.74 L410.06 490.12 L416.07 483.11 L422.08 476.10 L428.10 471.09 L434.11 466.08 L440.12 462.07 L446.13 457.06 L452.14 455.45 L458.16 455.45 L464.17 454.05 L470.18 452.05 L476.19 450.65 L482.20 449.04 L488.22 448.64 L494.23 447.64 L500.24 445.64 L506.25 443.43 L510.26 444.03 L516.27 447.64 L522.28 449.04 L528.30 451.65 L534.31 456.06 L540.32 462.07 L546.33 467.08 L552.34 476.10 L558.36 480.51 L564.37 482.51 L570.38 483.11 L576.39 484.51 L582.40 485.11 L585.01 485.31 L588.04 486.12 L594.05 486.52 L599.06 486.12 L604.07 489.12 L610.08 493.73 L616.09 495.33 L622.10 494.13 L628.12 492.13 L634.13 491.73 L640.14 488.12 L646.15 484.71 L652.16 481.11 L658.18 479.70 L664.19 475.70 L670.20 470.48 L676.21 464.47 L682.22 460.06 L688.24 456.46 L694.25 454.05 L700.26 451.65 L705.27 450.04 L710.28 452.05 L716.29 456.06 L722.30 460.06 L728.32 464.07 L734.33 471.09 L740.34 477.10 L746.35 482.11 L752.36 486.52 L758.38 488.72 L764.39 489.52 L770.40 488.12 L775.01 486.52 L779.05 484.11 L785.06 482.11 L791.07 483.11 L797.08 485.72 L803.10 487.72 L809.11 493.13 L815.12 498.54 L821.13 503.75 L827.14 507.16 L833.16 509.76 L839.17 509.16 L845.18 508.16 L851.19 510.16 L857.20 508.16 L863.22 504.15 L869.23 498.54 L875.24 493.13 L881.25 488.12 L887.26 483.71 L891.67 481.71" stroke="#fbd84c" stroke-width="1.05" fill="none" stroke-linejoin="round" stroke-linecap="round" />
</g>
<g><circle cx="891.95" cy="412.8" r="8.6" fill="#fff"/><circle cx="891.95" cy="412.8" r="7.3" fill="#fff" stroke="#a63db8" stroke-width="1.15"/><path d="M893.9 409.2 L889.0 413.5 L891.7 413.5 L890.0 417.0 L894.7 412.6 L892.1 412.5 Z" fill="#a63db8" stroke="#a63db8" stroke-width="0.55" stroke-linejoin="round"/><circle cx="897.0" cy="407.9" r="2.9" fill="#fff"/><circle cx="897.0" cy="407.9" r="2.05" fill="#f23645"/></g>
<path d="M7.6 20.1 H1016.5 V579.1 H7.6 Z" stroke="#f0f1f4" stroke-width="1.5" fill="none"/>
<path d="M958.4 20.5 V578.6 M8.0 422.4 H1015.9000000000001 M8.0 558.5 H1015.9000000000001" stroke="#e2e5eb" stroke-width="0.95" fill="none"/>
<text x="7.75" y="13.9" font-size="9.0" fill="#131722" stroke="#131722" stroke-width="0.25" textLength="44.6" lengthAdjust="spacingAndGlyphs" >ranadagger</text>
<text x="55.3" y="13.9" font-size="9.0" fill="#131722" stroke="#131722" stroke-width="0.25" textLength="29.7" lengthAdjust="spacingAndGlyphs" >created</text>
<text x="89.0" y="13.9" font-size="9.0" fill="#131722" stroke="#131722" stroke-width="0.25" textLength="17.2" lengthAdjust="spacingAndGlyphs" >with</text>
<text x="109.0" y="13.9" font-size="9.0" fill="#131722" stroke="#131722" stroke-width="0.25" textLength="70.0" lengthAdjust="spacingAndGlyphs" >TradingView.com,</text>
<text x="182.7" y="13.9" font-size="9.0" fill="#131722" stroke="#131722" stroke-width="0.25" textLength="12.7" lengthAdjust="spacingAndGlyphs" >Sep</text>
<text x="198.6" y="13.9" font-size="9.0" fill="#131722" stroke="#131722" stroke-width="0.25" textLength="9.6" lengthAdjust="spacingAndGlyphs" >19,</text>
<text x="214.7" y="13.9" font-size="9.0" fill="#131722" stroke="#131722" stroke-width="0.25" textLength="19.8" lengthAdjust="spacingAndGlyphs" >2025</text>
<text x="238.3" y="13.9" font-size="9.0" fill="#131722" stroke="#131722" stroke-width="0.25" textLength="20.0" lengthAdjust="spacingAndGlyphs" >16:26</text>
<text x="262.0" y="13.9" font-size="9.0" fill="#131722" stroke="#131722" stroke-width="0.25" textLength="16.4" lengthAdjust="spacingAndGlyphs" >UTC</text>
<text x="13.75" y="34.5" font-size="9.0" fill="#131722" stroke="#131722" stroke-width="0.25" textLength="27.6" lengthAdjust="spacingAndGlyphs" >Bitcoin</text>
<text x="45.0" y="34.5" font-size="9.0" fill="#131722" stroke="#131722" stroke-width="0.25" textLength="2.9" lengthAdjust="spacingAndGlyphs" >/</text>
<text x="52.2" y="34.5" font-size="9.0" fill="#131722" stroke="#131722" stroke-width="0.25" textLength="35.3" lengthAdjust="spacingAndGlyphs" >TetherUS</text>
<text x="90.3" y="34.5" font-size="9.0" fill="#131722" stroke="#131722" stroke-width="0.25" textLength="2.0" lengthAdjust="spacingAndGlyphs" >·</text>
<text x="97.0" y="34.5" font-size="9.0" fill="#131722" stroke="#131722" stroke-width="0.25" textLength="9.2" lengthAdjust="spacingAndGlyphs" >1D</text>
<text x="109.7" y="34.5" font-size="9.0" fill="#131722" stroke="#131722" stroke-width="0.25" textLength="2.0" lengthAdjust="spacingAndGlyphs" >·</text>
<text x="115.6" y="34.5" font-size="9.0" fill="#131722" stroke="#131722" stroke-width="0.25" textLength="30.5" lengthAdjust="spacingAndGlyphs" >Binance</text>
<text x="152.3" y="34.5" font-size="9.0" fill="#131722" stroke="#131722" stroke-width="0.25" textLength="5.6" lengthAdjust="spacingAndGlyphs" >O</text>
<text x="158.2" y="34.5" font-size="9.0" fill="#ef5350" stroke="#ef5350" stroke-width="0.25" textLength="44.3" lengthAdjust="spacingAndGlyphs" >117,073.53</text>
<text x="208" y="34.5" font-size="9.0" fill="#131722" stroke="#131722" stroke-width="0.25" textLength="5.4" lengthAdjust="spacingAndGlyphs" >H</text>
<text x="213.7" y="34.5" font-size="9.0" fill="#ef5350" stroke="#ef5350" stroke-width="0.25" textLength="44.3" lengthAdjust="spacingAndGlyphs" >117,459.99</text>
<text x="263.6" y="34.5" font-size="9.0" fill="#131722" stroke="#131722" stroke-width="0.25" textLength="4.2" lengthAdjust="spacingAndGlyphs" >L</text>
<text x="268.6" y="34.5" font-size="9.0" fill="#ef5350" stroke="#ef5350" stroke-width="0.25" textLength="44.0" lengthAdjust="spacingAndGlyphs" >115,464.19</text>
<text x="318" y="34.5" font-size="9.0" fill="#131722" stroke="#131722" stroke-width="0.25" textLength="5.2" lengthAdjust="spacingAndGlyphs" >C</text>
<text x="323.6" y="34.5" font-size="9.0" fill="#ef5350" stroke="#ef5350" stroke-width="0.25" textLength="43.5" lengthAdjust="spacingAndGlyphs" >115,966.21</text>
<text x="373" y="34.5" font-size="9.0" fill="#ef5350" stroke="#ef5350" stroke-width="0.25" textLength="76" lengthAdjust="spacingAndGlyphs" >−1,107.32 (−0.95%)</text>
<text x="13.75" y="47.2" font-size="9.0" fill="#131722" stroke="#131722" stroke-width="0.25" textLength="15.1" lengthAdjust="spacingAndGlyphs" >EMA</text>
<text x="33.4" y="47.2" font-size="9.0" fill="#131722" stroke="#131722" stroke-width="0.25" textLength="14.1" lengthAdjust="spacingAndGlyphs" >(20,</text>
<text x="51.6" y="47.2" font-size="9.0" fill="#131722" stroke="#131722" stroke-width="0.25" textLength="23.1" lengthAdjust="spacingAndGlyphs" >close)</text>
<text x="81" y="47.2" font-size="9.0" fill="#2962ff" stroke="#2962ff" stroke-width="0.25" textLength="43.7" lengthAdjust="spacingAndGlyphs" >114,457.76</text>
<text x="13.75" y="60.0" font-size="9.0" fill="#131722" stroke="#131722" stroke-width="0.25" textLength="15.1" lengthAdjust="spacingAndGlyphs" >SMA</text>
<text x="32.9" y="60.0" font-size="9.0" fill="#131722" stroke="#131722" stroke-width="0.25" textLength="14.6" lengthAdjust="spacingAndGlyphs" >(50,</text>
<text x="51.6" y="60.0" font-size="9.0" fill="#131722" stroke="#131722" stroke-width="0.25" textLength="22.7" lengthAdjust="spacingAndGlyphs" >close)</text>
<text x="81" y="60.0" font-size="9.0" fill="#f23645" stroke="#f23645" stroke-width="0.25" textLength="43.2" lengthAdjust="spacingAndGlyphs" >114,327.22</text>
<text x="13.5" y="437.2" font-size="9.0" fill="#131722" stroke="#131722" stroke-width="0.25" textLength="11.5" lengthAdjust="spacingAndGlyphs" >RSI</text>
<text x="29.0" y="437.2" font-size="9.0" fill="#131722" stroke="#131722" stroke-width="0.25" textLength="14.6" lengthAdjust="spacingAndGlyphs" >(14,</text>
<text x="47.3" y="437.2" font-size="9.0" fill="#131722" stroke="#131722" stroke-width="0.25" textLength="23.0" lengthAdjust="spacingAndGlyphs" >close)</text>
<text x="76.5" y="437.2" font-size="9.0" fill="#7e57c2" stroke="#7e57c2" stroke-width="0.25" textLength="21.6" lengthAdjust="spacingAndGlyphs" >56.48</text>
<text x="104" y="437.2" font-size="9.0" fill="#fdd835" stroke="#fdd835" stroke-width="0.25" textLength="21.4" lengthAdjust="spacingAndGlyphs" >54.87</text>
<rect x="958.9" y="21.0" width="56.90000000000009" height="557.4000000000001" fill="#fff"/>
<path d="M958.4 20.5 V578.6 M958.8 422.4 H1015.9000000000001 M958.8 558.5 H1015.9000000000001" stroke="#e2e5eb" stroke-width="0.95" fill="none"/>
<text x="965.4" y="75.1" font-size="8.7" fill="#131722" stroke="#131722" stroke-width="0.25" textLength="43.5" lengthAdjust="spacingAndGlyphs" >120,000.00</text>
<text x="965.4" y="190.78" font-size="8.7" fill="#131722" stroke="#131722" stroke-width="0.25" textLength="43.5" lengthAdjust="spacingAndGlyphs" >104,000.00</text>
<text x="965.4" y="248.61999999999998" font-size="8.7" fill="#131722" stroke="#131722" stroke-width="0.25" textLength="38.7" lengthAdjust="spacingAndGlyphs" >96,000.00</text>
<text x="965.4" y="277.54" font-size="8.7" fill="#131722" stroke="#131722" stroke-width="0.25" textLength="38.7" lengthAdjust="spacingAndGlyphs" >92,000.00</text>
<text x="965.4" y="306.46000000000004" font-size="8.7" fill="#131722" stroke="#131722" stroke-width="0.25" textLength="38.7" lengthAdjust="spacingAndGlyphs" >88,000.00</text>
<text x="965.4" y="335.38000000000005" font-size="8.7" fill="#131722" stroke="#131722" stroke-width="0.25" textLength="38.7" lengthAdjust="spacingAndGlyphs" >84,000.00</text>
<text x="965.4" y="364.30000000000007" font-size="8.7" fill="#131722" stroke="#131722" stroke-width="0.25" textLength="38.7" lengthAdjust="spacingAndGlyphs" >80,000.00</text>
<text x="965.4" y="393.22" font-size="8.7" fill="#131722" stroke="#131722" stroke-width="0.25" textLength="38.7" lengthAdjust="spacingAndGlyphs" >76,000.00</text>
<text x="965.4" y="161.7" font-size="8.7" fill="#131722" stroke="#131722" stroke-width="0.25" textLength="43.5" lengthAdjust="spacingAndGlyphs" >108,000.00</text>
<text x="965.4" y="421.90000000000003" font-size="8.7" fill="#131722" stroke="#131722" stroke-width="0.25" textLength="38.7" lengthAdjust="spacingAndGlyphs" >72,000.00</text>
<text x="965.3" y="428.8" font-size="8.7" fill="#131722" stroke="#131722" stroke-width="0.25" textLength="21.8" lengthAdjust="spacingAndGlyphs" >80.00</text>
<text x="965.3" y="473.5" font-size="8.7" fill="#131722" stroke="#131722" stroke-width="0.25" textLength="21.8" lengthAdjust="spacingAndGlyphs" >60.00</text>
<text x="965.3" y="518.5" font-size="8.7" fill="#131722" stroke="#131722" stroke-width="0.25" textLength="21.8" lengthAdjust="spacingAndGlyphs" >40.00</text>
<rect x="961.2" y="23.5" width="52.3" height="19.5" rx="3" fill="#fff" stroke="#eceef2" stroke-width="1"/>
<text x="967.7" y="36.3" font-size="8.7" fill="#131722" stroke="#131722" stroke-width="0.25" textLength="20.9" lengthAdjust="spacingAndGlyphs" >USDT</text>
<rect x="959.3" y="45.6" width="54.30000000000007" height="1.5" fill="#0a0aff"/>
<rect x="959.0999999999999" y="83.3" width="54.500000000000114" height="12.6" fill="#0a0aff" rx="1.5"/>
<text x="965.4" y="92.1" font-size="8.7" fill="#fff" stroke="#fff" stroke-width="0.25" textLength="43.5" lengthAdjust="spacingAndGlyphs" >117,500.00</text>
<rect x="959.0999999999999" y="161.0" width="54.500000000000114" height="12.6" fill="#0a0aff" rx="1.5"/>
<text x="965.4" y="170.2" font-size="8.7" fill="#fff" stroke="#fff" stroke-width="0.25" textLength="43.5" lengthAdjust="spacingAndGlyphs" >107,000.00</text>
<rect x="959.0999999999999" y="211.1" width="54.500000000000114" height="12.7" fill="#0a0aff" rx="1.5"/>
<text x="965.4" y="220.2" font-size="8.7" fill="#fff" stroke="#fff" stroke-width="0.25" textLength="43.5" lengthAdjust="spacingAndGlyphs" >100,000.00</text>
<rect x="959.0999999999999" y="400.9" width="49.100000000000136" height="12.4" fill="#0a0aff" rx="1.5"/>
<text x="965.4" y="410.0" font-size="8.7" fill="#fff" stroke="#fff" stroke-width="0.25" textLength="38.7" lengthAdjust="spacingAndGlyphs" >73,777.00</text>
<rect x="959.0999999999999" y="95.9" width="54.500000000000114" height="33.4" fill="#ef5350" rx="1"/>
<text x="965.4" y="104.69999999999999" font-size="8.7" fill="#fff" stroke="#fff" stroke-width="0.25" textLength="43.5" lengthAdjust="spacingAndGlyphs" >115,966.21</text>
<text x="965.4" y="115.5" font-size="8.7" fill="#fff" stroke="#fff" stroke-width="0.25" textLength="31" lengthAdjust="spacingAndGlyphs" >+11.01%</text>
<text x="965.4" y="125.4" font-size="8.7" fill="#fff" stroke="#fff" stroke-width="0.25" textLength="34.5" lengthAdjust="spacingAndGlyphs" fill-opacity="0.75">07:33:25</text>
<rect x="915.5" y="95.9" width="42.8" height="12.8" fill="#ef5350" rx="1.5"/>
<text x="918.8" y="105.3" font-size="8.7" fill="#fff" stroke="#fff" stroke-width="0.25" textLength="35.6" lengthAdjust="spacingAndGlyphs" >BTCUSDT</text>
<rect x="959.0999999999999" y="129.6" width="54.500000000000114" height="12.4" fill="#2962ff" rx="1"/>
<text x="965.4" y="138.7" font-size="8.7" fill="#fff" stroke="#fff" stroke-width="0.25" textLength="43.5" lengthAdjust="spacingAndGlyphs" >114,457.76</text>
<rect x="935" y="129.6" width="23.3" height="12.4" fill="#2962ff" rx="1.5"/>
<text x="938.6" y="138.6" font-size="8.7" fill="#fff" stroke="#fff" stroke-width="0.25" textLength="16.8" lengthAdjust="spacingAndGlyphs" >EMA</text>
<rect x="959.0999999999999" y="142.0" width="54.500000000000114" height="12.6" fill="#f23645" rx="1"/>
<text x="965.4" y="151.1" font-size="8.7" fill="#fff" stroke="#fff" stroke-width="0.25" textLength="43.5" lengthAdjust="spacingAndGlyphs" >114,327.22</text>
<rect x="921" y="142.0" width="37.3" height="12.6" fill="#f23645" rx="1.5"/>
<text x="924.5" y="151.0" font-size="8.7" fill="#fff" stroke="#fff" stroke-width="0.25" textLength="30.8" lengthAdjust="spacingAndGlyphs" >SMA:MA</text>
<rect x="959.0999999999999" y="472.9" width="31.800000000000068" height="12.2" fill="#7e57c2" rx="1"/>
<text x="965.3" y="482.1" font-size="8.7" fill="#fff" stroke="#fff" stroke-width="0.25" textLength="21.8" lengthAdjust="spacingAndGlyphs" >56.48</text>
<rect x="939.5" y="472.9" width="18.8" height="12.2" fill="#7e57c2" rx="1.5"/>
<text x="943.0" y="482.1" font-size="8.7" fill="#fff" stroke="#fff" stroke-width="0.25" textLength="12.3" lengthAdjust="spacingAndGlyphs" >RSI</text>
<rect x="959.0999999999999" y="485.4" width="31.800000000000068" height="12.5" fill="#fdd835" rx="1"/>
<text x="965.3" y="494.6" font-size="8.7" fill="#131722" stroke="#131722" stroke-width="0.25" textLength="21.8" lengthAdjust="spacingAndGlyphs" >54.87</text>
<rect x="899.2" y="485.4" width="59.1" height="12.5" fill="#fdd835" rx="1.5"/>
<text x="902.8" y="494.6" font-size="8.7" fill="#131722" stroke="#131722" stroke-width="0.25" textLength="52.5" lengthAdjust="spacingAndGlyphs" >RSI-based MA</text>
<text x="48.8" y="571.6" font-size="9.0" fill="#131722" stroke="#131722" stroke-width="0.25" textLength="19.3" lengthAdjust="spacingAndGlyphs" >2025</text>
<text x="149.9" y="571.6" font-size="9.0" fill="#131722" stroke="#131722" stroke-width="0.25" textLength="15.0" lengthAdjust="spacingAndGlyphs" >Feb</text>
<text x="239.4" y="571.6" font-size="9.0" fill="#131722" stroke="#131722" stroke-width="0.25" textLength="14.8" lengthAdjust="spacingAndGlyphs" >Mar</text>
<text x="338.4" y="571.6" font-size="9.0" fill="#131722" stroke="#131722" stroke-width="0.25" textLength="14.6" lengthAdjust="spacingAndGlyphs" >Apr</text>
<text x="433.6" y="571.6" font-size="9.0" fill="#131722" stroke="#131722" stroke-width="0.25" textLength="15.9" lengthAdjust="spacingAndGlyphs" >May</text>
<text x="533.6" y="571.6" font-size="9.0" fill="#131722" stroke="#131722" stroke-width="0.25" textLength="13.7" lengthAdjust="spacingAndGlyphs" >Jun</text>
<text x="630.5" y="571.6" font-size="9.0" fill="#131722" stroke="#131722" stroke-width="0.25" textLength="11.6" lengthAdjust="spacingAndGlyphs" >Jul</text>
<text x="727.5" y="571.6" font-size="9.0" fill="#131722" stroke="#131722" stroke-width="0.25" textLength="15.5" lengthAdjust="spacingAndGlyphs" >Aug</text>
<text x="826.8" y="571.6" font-size="9.0" fill="#131722" stroke="#131722" stroke-width="0.25" textLength="14.9" lengthAdjust="spacingAndGlyphs" >Sep</text>
<text x="922.8" y="571.6" font-size="9.0" fill="#131722" stroke="#131722" stroke-width="0.25" textLength="14.4" lengthAdjust="spacingAndGlyphs" >Oct</text>
<g transform="translate(9,593.35) scale(0.6125)" fill="#131313"><path d="M14 22H7V11H0V4h14v18zM28 22h-8l7.5-18h8L28 22z"/><circle cx="20" cy="8" r="4"/></g>
<text x="37.1" y="606.3" font-size="14.1" fill="#131313" stroke="#131313" stroke-width="0.75" textLength="89.3" lengthAdjust="spacingAndGlyphs" >TradingView</text>
</svg>
</body></html>
